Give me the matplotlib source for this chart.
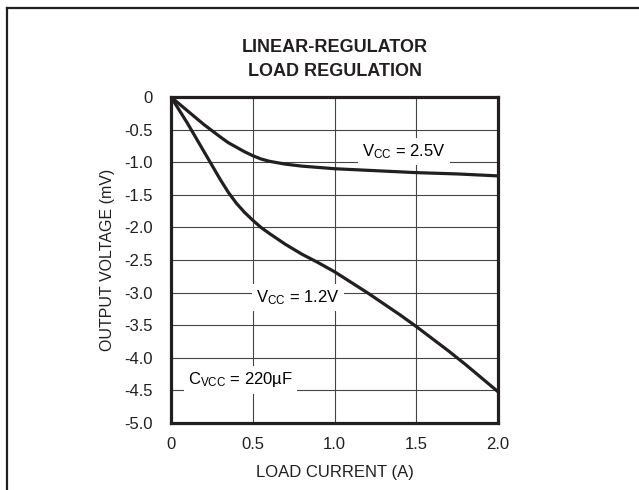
import matplotlib
matplotlib.use("Agg")
import matplotlib.pyplot as plt
from matplotlib import font_manager
from matplotlib.lines import Line2D

names = {f.name for f in font_manager.fontManager.ttflist}
FONT = "Liberation Sans Narrow" if "Liberation Sans Narrow" in names else "Liberation Sans"
NARROW = FONT == "Liberation Sans Narrow"

plt.rcParams['font.family'] = [FONT, 'DejaVu Sans']
plt.rcParams['mathtext.fontset'] = 'custom'
plt.rcParams['mathtext.rm'] = FONT
plt.rcParams['mathtext.it'] = FONT

# load current (A) vs output voltage (mV)
i_25 = [0, 0.1, 0.2, 0.3, 0.35, 0.4, 0.45, 0.5, 0.55, 0.6, 0.7, 0.8, 1.0, 1.25, 1.5, 1.75, 2.0]
v_25 = [0, -0.21, -0.42, -0.61, -0.70, -0.77, -0.84, -0.90, -0.95, -0.985, -1.03, -1.06, -1.1, -1.13, -1.16, -1.18, -1.21]

i_12 = [0, 0.1, 0.2, 0.3, 0.35, 0.4, 0.45, 0.5, 0.55, 0.6, 0.7, 0.8, 0.9, 1.0, 1.1, 1.2, 1.3, 1.4, 1.5, 1.6, 1.7, 1.8, 1.9, 2.0]
v_12 = [0, -0.40, -0.83, -1.26, -1.46, -1.63, -1.77, -1.89, -2.0, -2.09, -2.26, -2.41, -2.54, -2.68, -2.84, -3.0, -3.17, -3.34, -3.52, -3.71, -3.90, -4.10, -4.31, -4.52]

x_ticks = [0, 0.5, 1.0, 1.5, 2.0]
x_labels = ["0", "0.5", "1.0", "1.5", "2.0"]
y_ticks = [0, -0.5, -1.0, -1.5, -2.0, -2.5, -3.0, -3.5, -4.0, -4.5, -5.0]
y_labels = ["0"] + [f"{v:.1f}" for v in y_ticks[1:]]

fs = 13 if NARROW else 12
ink = '#231f20'

fig = plt.figure(figsize=(6.39, 4.90), dpi=100)
ax = fig.add_axes([171/639, 1 - 423/490, 327/639, 326/490])

ax.plot(i_25, v_25, color=ink, lw=2.3, solid_joinstyle='round', zorder=4)
ax.plot(i_12, v_12, color=ink, lw=2.3, solid_joinstyle='round', zorder=4)

ax.set_xlim(0, 2.0)
ax.set_ylim(-5.0, 0)
ax.set_xticks(x_ticks, x_labels)
ax.set_yticks(y_ticks, y_labels)
ax.tick_params(length=0, labelsize=fs, colors=ink)
ax.tick_params(axis='y', pad=13)
ax.tick_params(axis='x', pad=10)
ax.grid(True, color='#444444', lw=0.8, zorder=1)
ax.set_axisbelow(True)
for s in ax.spines.values():
    s.set_linewidth(2.3)
    s.set_color(ink)
    s.set_zorder(5)

ax.set_xlabel("LOAD CURRENT (A)", fontsize=fs, color=ink)
ax.set_ylabel("OUTPUT VOLTAGE (mV)", fontsize=fs - 0.5, color=ink)
ax.xaxis.set_label_coords(0.5, -0.128)
ax.yaxis.set_label_coords(-0.172, 0.5)

box = dict(facecolor='white', edgecolor='none', pad=3)
ax.text(1.168, -0.84, r"V$_{\mathrm{CC}}$ = 2.5V", fontsize=fs, va='center', ha='left', bbox=box, zorder=3)
ax.text(0.52, -3.07, r"V$_{\mathrm{CC}}$ = 1.2V", fontsize=fs, va='center', ha='left', bbox=box, zorder=3)
ax.text(0.104, -4.34, r"C$_{\mathrm{VCC}}$ = 220µF", fontsize=fs, va='center', ha='left', bbox=box, zorder=3)

tfs = 14 if NARROW else 13
fig.text(334.5/639, 1 - 48/490, "LINEAR-REGULATOR", fontsize=tfs, fontweight='bold', ha='center', va='center', color=ink)
fig.text(334.5/639, 1 - 72/490, "LOAD REGULATION", fontsize=tfs, fontweight='bold', ha='center', va='center', color=ink)

# outer frame (top and left edges only)
fig.add_artist(Line2D([7/639, 1], [1 - 8/490, 1 - 8/490], color=ink, lw=1.6, transform=fig.transFigure))
fig.add_artist(Line2D([7/639, 7/639], [0, 1 - 8/490], color=ink, lw=1.6, transform=fig.transFigure))

fig.savefig("out.png", dpi=100)
